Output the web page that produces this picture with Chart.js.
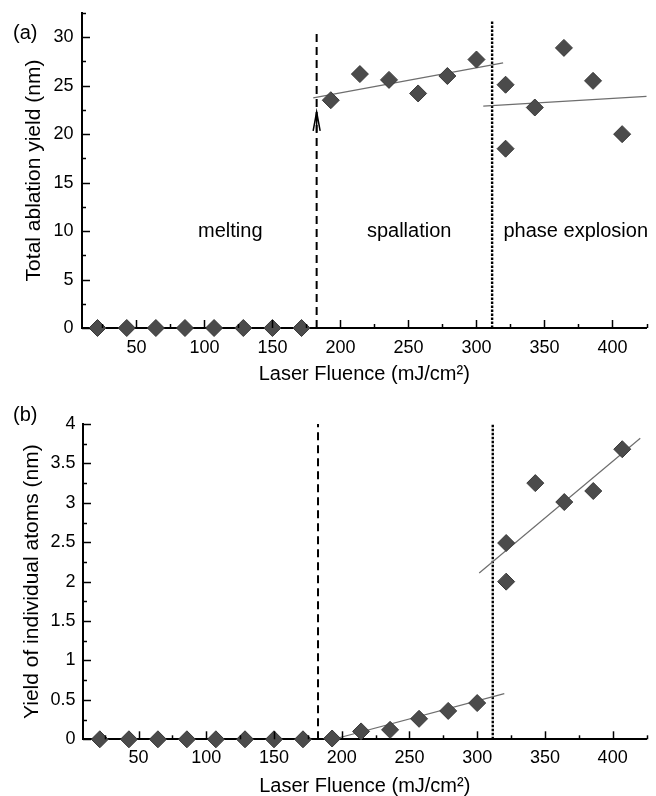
<!DOCTYPE html>
<html lang="en">
<head>
<meta charset="UTF-8">
<title>Ablation yield vs laser fluence</title>
<script src="https://cdn.jsdelivr.net/npm/chart.js"></script>
<style>
  html, body { margin: 0; padding: 0; background: #fff; overflow: hidden; }
  body { width: 656px; height: 796px; position: relative; font-family: "Liberation Sans", Arial, sans-serif; }
  .panel { position: absolute; left: 0; width: 656px; }
  #panelA { top: 0; height: 400px; }
  #panelB { top: 400px; height: 410px; }
  .tag { position: absolute; left: 13px; font-size: 20px; line-height: 20px; color: #000; }
</style>
</head>
<body>
<div class="panel" id="panelA"><canvas id="chartA" width="656" height="400"></canvas></div>
<div class="panel" id="panelB"><canvas id="chartB" width="656" height="410"></canvas></div>
<div class="tag" style="top:22px">(a)</div>
<div class="tag" style="top:404px">(b)</div>

<script>
// laser fluence of each simulation (mJ/cm2), two runs at 321.4
const fluence = [21.4, 42.9, 64.3, 85.7, 107.1, 128.6, 150, 171.4, 192.9, 214.3,
                 235.7, 257.1, 278.6, 300, 321.4, 321.4, 342.9, 364.3, 385.7, 407.1];
// (a) total ablation yield (nm)
const totalYield = [0, 0, 0, 0, 0, 0, 0, 0, 23.5, 26.2,
                    25.6, 24.2, 26.0, 27.7, 25.1, 18.5, 22.75, 28.9, 25.5, 20.0];
// (b) yield of individual atoms (nm)
const atomYield = [0, 0, 0, 0, 0, 0, 0, 0, 0.01, 0.1,
                   0.12, 0.26, 0.36, 0.46, 2.49, 2.0, 3.25, 3.01, 3.15, 3.68];

// regime boundaries
const meltEdge = 182.5;
const explEdge = 311.5;

// linear fits (end points in data units)
const fitSpallX = [180, 319.6];
const fitSpallY = [23.74, 27.35];
const fitExplX = [305, 425];
const fitExplY = [22.9, 23.9];
const fitAtomLowX = [196, 320];
const fitAtomLowY = [0.01, 0.58];
const fitAtomHighX = [301.5, 420.4];
const fitAtomHighY = [2.11, 3.82];

// tick labels
const xTickLabels = [50, 100, 150, 200, 250, 300, 350, 400];
const yTickLabelsA = [0, 5, 10, 15, 20, 25, 30];
const yTickLabelsB = [0, 0.5, 1, 1.5, 2, 2.5, 3, 3.5, 4];

// region names for panel (a)
const regionNames = ['melting', 'spallation', 'phase explosion'];
const regionX = [119, 250.5, 373];
const regionY = 9.35;

Chart.defaults.font.family = '"Liberation Sans", Arial, sans-serif';
Chart.defaults.color = '#000';

const pts = (xs, ys) => xs.map((x, i) => ({ x: x, y: ys[i] }));
const hasLabel = (list, v) => list.some(l => Math.abs(l - v) < 1e-6);

function fitLine(xs, ys) {
    return { data: pts(xs, ys), showLine: true, borderColor: '#6e6e6e', borderWidth: 1.2,
             pointRadius: 0, order: 2 };
}
function edgeLine(x, top, dash, width) {
    return { data: pts([x, x], [0, top]), showLine: true, borderColor: '#000', borderWidth: width,
             borderDash: dash, pointRadius: 0, order: 3 };
}

// tick marks drawn inward from the axes, long at labelled values
const inwardTicks = {
    id: 'inwardTicks',
    afterDatasetsDraw(chart) {
        const ctx = chart.ctx, area = chart.chartArea;
        const xs = chart.scales.x, ys = chart.scales.y;
        ctx.save();
        ctx.strokeStyle = '#000';
        ctx.lineWidth = 1.5;
        xs.ticks.forEach(t => {
            const px = Math.round(xs.getPixelForValue(t.value)) + 0.5;
            const len = t.label !== '' ? 8 : 4;
            ctx.beginPath(); ctx.moveTo(px, area.bottom); ctx.lineTo(px, area.bottom - len); ctx.stroke();
        });
        ys.ticks.forEach(t => {
            const py = Math.round(ys.getPixelForValue(t.value)) + 0.5;
            const len = t.label !== '' ? 8 : 4;
            ctx.beginPath(); ctx.moveTo(area.left, py); ctx.lineTo(area.left + len, py); ctx.stroke();
        });
        ctx.restore();
    }
};

function makeChart(id, spec) {
    const annot = {
        id: 'annot_' + id,
        afterDatasetsDraw(chart) {
            const ctx = chart.ctx, xs = chart.scales.x, ys = chart.scales.y;
            ctx.save();
            ctx.fillStyle = '#000';
            ctx.font = '20px "Liberation Sans", Arial, sans-serif';
            ctx.textAlign = 'center';
            ctx.textBaseline = 'alphabetic';
            (spec.regions || []).forEach(r => {
                ctx.fillText(r.text, xs.getPixelForValue(r.x), ys.getPixelForValue(r.y));
            });
            if (spec.arrow) {
                const tx = xs.getPixelForValue(spec.arrow.x), ty = ys.getPixelForValue(spec.arrow.y);
                ctx.strokeStyle = '#000';
                ctx.lineWidth = 1.5;
                ctx.beginPath();
                ctx.moveTo(tx - 3.5, ty + 19); ctx.lineTo(tx, ty); ctx.lineTo(tx + 3.5, ty + 19);
                ctx.moveTo(tx, ty); ctx.lineTo(tx, ty + 20);
                ctx.stroke();
            }
            ctx.restore();
        }
    };

    return new Chart(document.getElementById(id), {
        type: 'scatter',
        data: { datasets: spec.datasets },
        options: {
            responsive: false,
            animation: false,
            clip: false,
            layout: { padding: spec.padding },
            plugins: { legend: { display: false }, tooltip: { enabled: false } },
            scales: {
                x: {
                    type: 'linear',
                    min: spec.xMin, max: 425,
                    grid: { display: false, drawTicks: false },
                    border: { display: true, color: '#000', width: 2 },
                    ticks: {
                        stepSize: 25, autoSkip: false, maxRotation: 0, padding: spec.xTickPad,
                        includeBounds: false,
                        font: { size: 18 },
                        callback: v => hasLabel(xTickLabels, v) ? String(v) : ''
                    },
                    title: {
                        display: true, text: 'Laser Fluence (mJ/cm²)',
                        font: { size: 20 }, padding: { top: 0, bottom: spec.xTitlePad }
                    },
                    afterFit: s => { s.height = spec.xHeight; s.paddingLeft = 0; s.paddingRight = 0; }
                },
                y: {
                    type: 'linear',
                    min: 0, max: spec.yMax,
                    grid: { display: false, drawTicks: false },
                    border: { display: true, color: '#000', width: 2 },
                    ticks: {
                        stepSize: spec.yStep, autoSkip: false, padding: spec.yTickPad,
                        font: { size: 18 },
                        callback: v => hasLabel(spec.yLabels, v) ? String(v) : ''
                    },
                    title: {
                        display: true, text: spec.yTitle,
                        font: { size: 21 }, padding: { top: spec.yTitlePad, bottom: 0 }
                    },
                    afterFit: s => { s.width = spec.yWidth; s.paddingTop = 0; s.paddingBottom = 0; }
                }
            }
        },
        plugins: [inwardTicks, annot]
    });
}

const markerStyle = { backgroundColor: '#4b4b4b', borderColor: '#383838', borderWidth: 1,
                      pointStyle: 'rectRot', pointRadius: 8.5, order: 0 };

makeChart('chartA', {
    xMin: 10, yMax: 32.5, yStep: 2.5, yLabels: yTickLabelsA,
    yTitle: 'Total ablation yield (nm)',
    padding: { top: 13, right: 9, left: 0, bottom: 0 },
    yWidth: 82, xHeight: 72, xTickPad: 9.5, xTitlePad: 13.5, yTickPad: 8.5, yTitlePad: 21.4,
    regions: regionNames.map((t, i) => ({ text: t, x: regionX[i], y: regionY })),
    arrow: { x: meltEdge, y: 22.3 },
    datasets: [
        Object.assign({ data: pts(fluence, totalYield) }, markerStyle),
        fitLine(fitSpallX, fitSpallY),
        fitLine(fitExplX, fitExplY),
        edgeLine(meltEdge, 30.5, [8, 5], 2),
        edgeLine(explEdge, 31.7, [2.5, 1.5], 2.4)
    ]
});

makeChart('chartB', {
    xMin: 9, yMax: 4, yStep: 0.25, yLabels: yTickLabelsB,
    yTitle: 'Yield of individual atoms (nm)',
    padding: { top: 24, right: 8, left: 0, bottom: 0 },
    yWidth: 83, xHeight: 70.7, xTickPad: 7.5, xTitlePad: 11.7, yTickPad: 7.5, yTitlePad: 19.9,
    datasets: [
        Object.assign({ data: pts(fluence, atomYield) }, markerStyle),
        fitLine(fitAtomLowX, fitAtomLowY),
        fitLine(fitAtomHighX, fitAtomHighY),
        edgeLine(meltEdge, 4, [8, 5], 2),
        edgeLine(explEdge, 4, [2.5, 1.5], 2.4)
    ]
});
</script>
</body>
</html>
